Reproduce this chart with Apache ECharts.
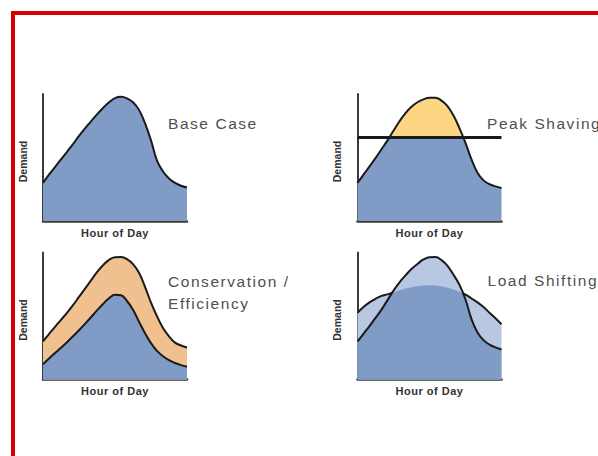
<!DOCTYPE html>
<html><head><meta charset="utf-8">
<script src="https://cdn.jsdelivr.net/npm/echarts@6/dist/echarts.min.js"></script>
<style>html,body{margin:0;padding:0;background:#fff}#c{width:598px;height:456px}</style>
</head><body><div id="c"></div>
<script>
// ---- data (hour of day vs. relative demand, 0-100) ----
const hours       = [0,1,2,3,4,5,6,7,8,9,10,11,12,13,14,15,16,17,18,19,20,21,22,23,24];
const baseCase    = [30,36.5,42.5,48.5,54.5,60.5,67,73,78.5,84,89,93.5,96.8,97.8,96.6,93.5,87.5,77,63.5,47.5,39,33.5,30,27.8,26.4];
const peakDemand  = [30,36.5,43,49.5,56.5,63.5,71,78.5,85,90,93.5,95.8,97,97,94.8,90.5,83,73,61.5,48.5,38,32,29,27.3,26];
const peakCap     = 65.8;
const consBefore  = [30,35.8,41.5,47,52.5,58.5,65,71.5,78,84.5,90,94.2,96.3,96.4,94.8,90.8,84,73,60.5,49.8,40.5,34,29,26.8,25.2];
const consAfter   = [12,16.5,20.8,25,29.4,34,38.8,43.8,49,54.4,59.5,64,66.7,66.3,61.8,55,45.6,36.5,28.6,22.5,18.3,15.2,13,11.3,10];
const shiftBefore = [30,36,42,48.5,55,62.5,70,76.5,82,87,91,94.5,96.3,96.4,94,89.5,82.5,74.5,63,47.5,37,31,27.5,25.3,23.6];
const shiftAfter  = [52.5,57,60.7,63.5,65.8,67,68.7,70.3,71.6,72.7,73.6,74.1,74.3,74.1,73.5,72.3,70.8,69,66.8,63.8,60.7,57,52.6,48.2,43.5];
const panelTitles = ['Base Case', 'Peak Shaving', 'Conservation /\nEfficiency', 'Load Shifting'];
const xName = 'Hour of Day';
const yName = 'Demand';

// ---- style ----
const BLUE = '#7f9bc6', LIGHT = '#b9c8e2', YELLOW = '#fdd683', ORANGE = '#f0c08f';
const INK = '#1a1a1a', AXIS = '#3a3a3a', CLEAR = 'rgba(0,0,0,0)';
const pts = v => hours.map((h, i) => [h, v[i]]);
function crossings(a, b) {
  const out = [];
  for (let i = 1; i < hours.length; i++) {
    const d0 = a[i - 1] - b[i - 1], d1 = a[i] - b[i];
    if (d0 * d1 < 0) out.push(hours[i - 1] + (hours[i] - hours[i - 1]) * d0 / (d0 - d1));
  }
  return out;
}
const [L, R] = crossings(shiftBefore, shiftAfter);

const grids = [
  { left: 43, top: 94, width: 144, height: 127 },
  { left: 357.5, top: 94, width: 144, height: 127 },
  { left: 43, top: 252.5, width: 144, height: 127 },
  { left: 357.5, top: 252.5, width: 144, height: 127 }
];
const xNameStyle = { fontFamily: 'Liberation Sans', fontWeight: 'bold', fontSize: 11, color: '#333' };
const yNameStyle = { fontFamily: 'Liberation Sans', fontWeight: 'bold', fontSize: 10.5, color: '#333', padding: [0, 8, 0, 0] };
const xAxes = grids.map((g, i) => ({
  gridIndex: i, type: 'value', min: 0, max: 24,
  axisLine: { show: true, onZero: false, lineStyle: { color: AXIS, width: 2.5 } },
  axisTick: { show: false }, axisLabel: { show: false }, splitLine: { show: false },
  name: xName, nameLocation: 'middle', nameGap: 6, nameTextStyle: xNameStyle
}));
const yAxes = grids.map((g, i) => ({
  gridIndex: i, type: 'value', min: 0, max: 100,
  axisLine: { show: true, lineStyle: { color: AXIS, width: 2 } },
  axisTick: { show: false }, axisLabel: { show: false }, splitLine: { show: false },
  name: yName, nameLocation: 'middle', nameGap: 15, nameRotate: 90, nameTextStyle: yNameStyle
}));

const common = { type: 'line', smooth: 0.4, showSymbol: false, silent: true, animation: false };
const mk = (ax, vals, extra) => Object.assign({}, common, { xAxisIndex: ax, yAxisIndex: ax, data: pts(vals) }, extra);
const series = [
  mk(0, baseCase, { lineStyle: { color: INK, width: 2 }, areaStyle: { color: BLUE, opacity: 1 } }),
  mk(1, peakDemand, { lineStyle: { color: INK, width: 2 }, areaStyle: { opacity: 1 },
    markLine: { silent: true, symbol: 'none', label: { show: false }, animation: false,
      lineStyle: { color: INK, width: 3, type: 'solid' }, data: [{ yAxis: peakCap }] } }),
  mk(2, consBefore, { lineStyle: { color: INK, width: 2 }, areaStyle: { color: ORANGE, opacity: 1 } }),
  mk(2, consAfter, { lineStyle: { color: INK, width: 2 }, areaStyle: { color: BLUE, opacity: 1 } }),
  mk(3, shiftBefore, { lineStyle: { opacity: 0 }, areaStyle: { opacity: 1 } }),
  mk(3, shiftAfter, { lineStyle: { opacity: 0 }, areaStyle: { opacity: 1 } }),
  mk(3, shiftBefore, { lineStyle: { opacity: 0 }, areaStyle: { opacity: 1 } }),
  mk(3, shiftAfter, { lineStyle: { width: 2 } }),
  mk(3, shiftBefore, { lineStyle: { color: INK, width: 2 } })
];
const vm = (idx, dim, pieces) => ({ type: 'piecewise', show: false, seriesIndex: idx, dimension: dim, pieces });
const split3 = (outside, middle) => [{ lt: L, color: outside }, { gte: L, lt: R, color: middle }, { gte: R, color: outside }];
const visualMap = [
  vm(1, 1, [{ lt: peakCap, color: BLUE }, { gte: peakCap, lt: 1000, color: YELLOW }, { gte: 1000, color: YELLOW }]),
  vm(4, 0, split3(CLEAR, LIGHT)),
  vm(5, 0, split3(LIGHT, BLUE)),
  vm(6, 0, split3(BLUE, CLEAR)),
  vm(7, 0, split3(INK, CLEAR))
];

const titlePos = [[168, 113], [487, 113], [168, 271], [487.5, 270]];
const title = panelTitles.map((t, i) => ({
  text: t, left: titlePos[i][0], top: titlePos[i][1], padding: 0,
  textStyle: { fontFamily: 'Liberation Sans', fontSize: 15.5, fontWeight: 'normal', color: '#505050', lineHeight: 21.5 }
}));

const chart = echarts.init(document.getElementById('c'), null, { renderer: 'svg' });
chart.setOption({
  animation: false,
  backgroundColor: '#fff',
  title, grid: grids, xAxis: xAxes, yAxis: yAxes, series, visualMap,
  graphic: [
    { type: 'rect', shape: { x: 11, y: 11, width: 587, height: 4 }, style: { fill: '#d40000' }, silent: true },
    { type: 'rect', shape: { x: 11, y: 11, width: 4, height: 445 }, style: { fill: '#d40000' }, silent: true }
  ]
});
// the reference lettering is horizontally stretched: widen the tracking
function track() {
  document.querySelectorAll('#c svg text').forEach(t => {
    const fs = getComputedStyle(t).fontSize;
    if (fs === '15.5px') t.style.letterSpacing = '1.55px';
    else if (fs === '11px') t.style.letterSpacing = '0.5px';
  });
}
track();
chart.on('finished', track);
</script></body></html>
